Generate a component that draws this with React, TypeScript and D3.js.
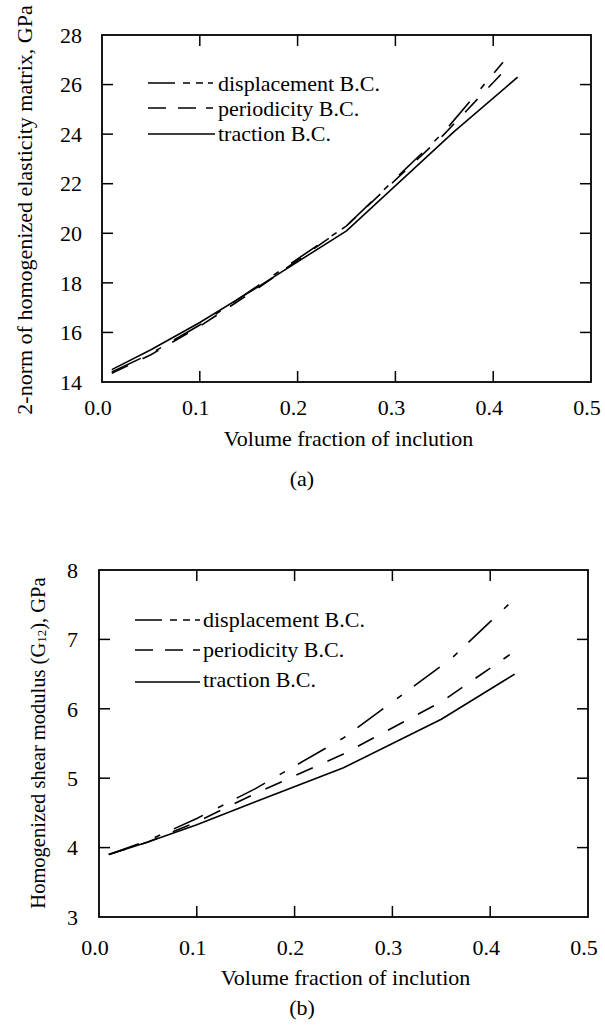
import React from "react";
import * as d3 from "d3";

// ---------- data ----------
const xTickValues = [0.0, 0.1, 0.2, 0.3, 0.4, 0.5];

// (a) 2-norm of homogenized elasticity matrix, GPa
const aYTicks = [14, 16, 18, 20, 22, 24, 26, 28];
const aDispVf = [0.01, 0.05, 0.1, 0.16, 0.25, 0.35, 0.41];
const aDisp = [14.4, 15.15, 16.3, 17.9, 20.3, 24.1, 26.9];
const aPerVf = [0.01, 0.05, 0.1, 0.16, 0.25, 0.35, 0.41];
const aPer = [14.35, 15.1, 16.25, 17.8, 20.3, 24.0, 26.5];
const aTracVf = [0.01, 0.05, 0.1, 0.16, 0.25, 0.36, 0.425];
const aTrac = [14.5, 15.3, 16.4, 17.85, 20.1, 24.1, 26.3];

// (b) Homogenized shear modulus (G12), GPa
const bYTicks = [3, 4, 5, 6, 7, 8];
const bDispVf = [0.01, 0.05, 0.1, 0.16, 0.25, 0.36, 0.42];
const bDisp = [3.9, 4.1, 4.42, 4.85, 5.58, 6.72, 7.52];
const bPerVf = [0.01, 0.05, 0.1, 0.16, 0.25, 0.35, 0.42];
const bPer = [3.9, 4.08, 4.37, 4.78, 5.35, 6.1, 6.78];
const bTracVf = [0.01, 0.05, 0.1, 0.16, 0.25, 0.35, 0.425];
const bTrac = [3.9, 4.08, 4.33, 4.66, 5.15, 5.85, 6.5];

const legendLabels = ["displacement B.C.", "periodicity B.C.", "traction B.C."];

// ---------- styles ----------
const FONT = "'Liberation Serif', 'Times New Roman', Times, serif";
const curveDash = ["32 17 6 15", "18 16", null];
const legendDash = ["27 8 7 6 7 5 5 100", "18 12 18 10 7 100", null];

type PanelCfg = {
  left: number; right: number; top: number; bottom: number;
  yDomain: [number, number]; yTicks: number[];
  yTickX: number; xTickBase: number; xTitleBase: number; yTitleX: number;
  yTitleY: number; yTitleSize: number;
  capBase: number; caption: string;
  legX1: number; legX2: number; legTextX: number; legBase: number[]; legLineY: number[];
  series: { vf: number[]; v: number[] }[];
  yTitle: React.ReactNode;
};

function Panel({ c }: { c: PanelCfg }) {
  const x = d3.scaleLinear().domain([0, 0.5]).range([c.left, c.right]);
  const y = d3.scaleLinear().domain(c.yDomain).range([c.bottom, c.top]);
  const line = d3.line<[number, number]>().x((d) => x(d[0])).y((d) => y(d[1]));
  const tl = 11;
  const fmt = d3.format(".1f");
  return (
    <g>
      {c.series.map((s, i) => (
        <path
          key={i}
          d={line(s.vf.map((v, j) => [v, s.v[j]] as [number, number])) || ""}
          fill="none"
          stroke="#000"
          strokeWidth={1.6}
          strokeDasharray={curveDash[i] || undefined}
        />
      ))}
      <rect x={c.left} y={c.top} width={c.right - c.left} height={c.bottom - c.top}
        fill="none" stroke="#000" strokeWidth={1.8} />
      {xTickValues.slice(1, -1).map((t) => (
        <g key={"xt" + t}>
          <line x1={x(t)} x2={x(t)} y1={c.bottom} y2={c.bottom - tl} stroke="#000" strokeWidth={1.5} />
          <line x1={x(t)} x2={x(t)} y1={c.top} y2={c.top + tl} stroke="#000" strokeWidth={1.5} />
        </g>
      ))}
      {c.yTicks.slice(1, -1).map((t) => (
        <g key={"yt" + t}>
          <line x1={c.left} x2={c.left + tl} y1={y(t)} y2={y(t)} stroke="#000" strokeWidth={1.5} />
          <line x1={c.right} x2={c.right - tl} y1={y(t)} y2={y(t)} stroke="#000" strokeWidth={1.5} />
        </g>
      ))}
      {xTickValues.map((t) => (
        <text key={"xl" + t} x={x(t) - 4} y={c.xTickBase} textAnchor="middle"
          fontFamily={FONT} fontSize={22}>{fmt(t)}</text>
      ))}
      {c.yTicks.map((t) => (
        <text key={"yl" + t} x={c.yTickX} y={y(t)} dy="0.35em" textAnchor="end"
          fontFamily={FONT} fontSize={22}>{t}</text>
      ))}
      <text x={(c.left + c.right) / 2 + 2} y={c.xTitleBase} textAnchor="middle"
        fontFamily={FONT} fontSize={22}>Volume fraction of inclution</text>
      <text transform={`translate(${c.yTitleX},${c.yTitleY}) rotate(-90)`} textAnchor="middle"
        fontFamily={FONT} fontSize={c.yTitleSize}>{c.yTitle}</text>
      <text x={302} y={c.capBase} textAnchor="middle" fontFamily={FONT} fontSize={22}>{c.caption}</text>
      {legendLabels.map((lab, i) => (
        <g key={"lg" + i}>
          <line x1={c.legX1} x2={c.legX2} y1={c.legLineY[i]} y2={c.legLineY[i]}
            stroke="#000" strokeWidth={1.5} strokeDasharray={legendDash[i] || undefined} />
          <text x={c.legTextX} y={c.legBase[i]} fontFamily={FONT} fontSize={22}>{lab}</text>
        </g>
      ))}
    </g>
  );
}

export default function App() {
  const a: PanelCfg = {
    left: 102, right: 591, top: 35, bottom: 382,
    yDomain: [14, 28], yTicks: aYTicks,
    yTickX: 82, xTickBase: 415, xTitleBase: 446, yTitleX: 32, yTitleY: 210, yTitleSize: 22,
    capBase: 486, caption: "(a)",
    legX1: 148, legX2: 215, legTextX: 218, legBase: [91, 116, 141], legLineY: [83, 108, 134],
    series: [
      { vf: aDispVf, v: aDisp },
      { vf: aPerVf, v: aPer },
      { vf: aTracVf, v: aTrac },
    ],
    yTitle: "2-norm of homogenized elasticity matrix, GPa",
  };
  const b: PanelCfg = {
    left: 99, right: 588, top: 570, bottom: 917,
    yDomain: [3, 8], yTicks: bYTicks,
    yTickX: 78, xTickBase: 955, xTitleBase: 985, yTitleX: 45, yTitleY: 743, yTitleSize: 20.5,
    capBase: 1015, caption: "(b)",
    legX1: 135, legX2: 200, legTextX: 203, legBase: [627, 657, 687], legLineY: [620, 650, 682],
    series: [
      { vf: bDispVf, v: bDisp },
      { vf: bPerVf, v: bPer },
      { vf: bTracVf, v: bTrac },
    ],
    yTitle: (
      <>
        <tspan>Homogenized shear modulus (G</tspan>
        <tspan fontSize={13} dy={1}>12</tspan>
        <tspan dy={-1}>), GPa</tspan>
      </>
    ),
  };
  return (
    <svg width={605} height={1028} style={{ position: "absolute", left: 0, top: 0, background: "#fff" }}>
      <rect width={605} height={1028} fill="#fff" />
      <Panel c={a} />
      <Panel c={b} />
    </svg>
  );
}
